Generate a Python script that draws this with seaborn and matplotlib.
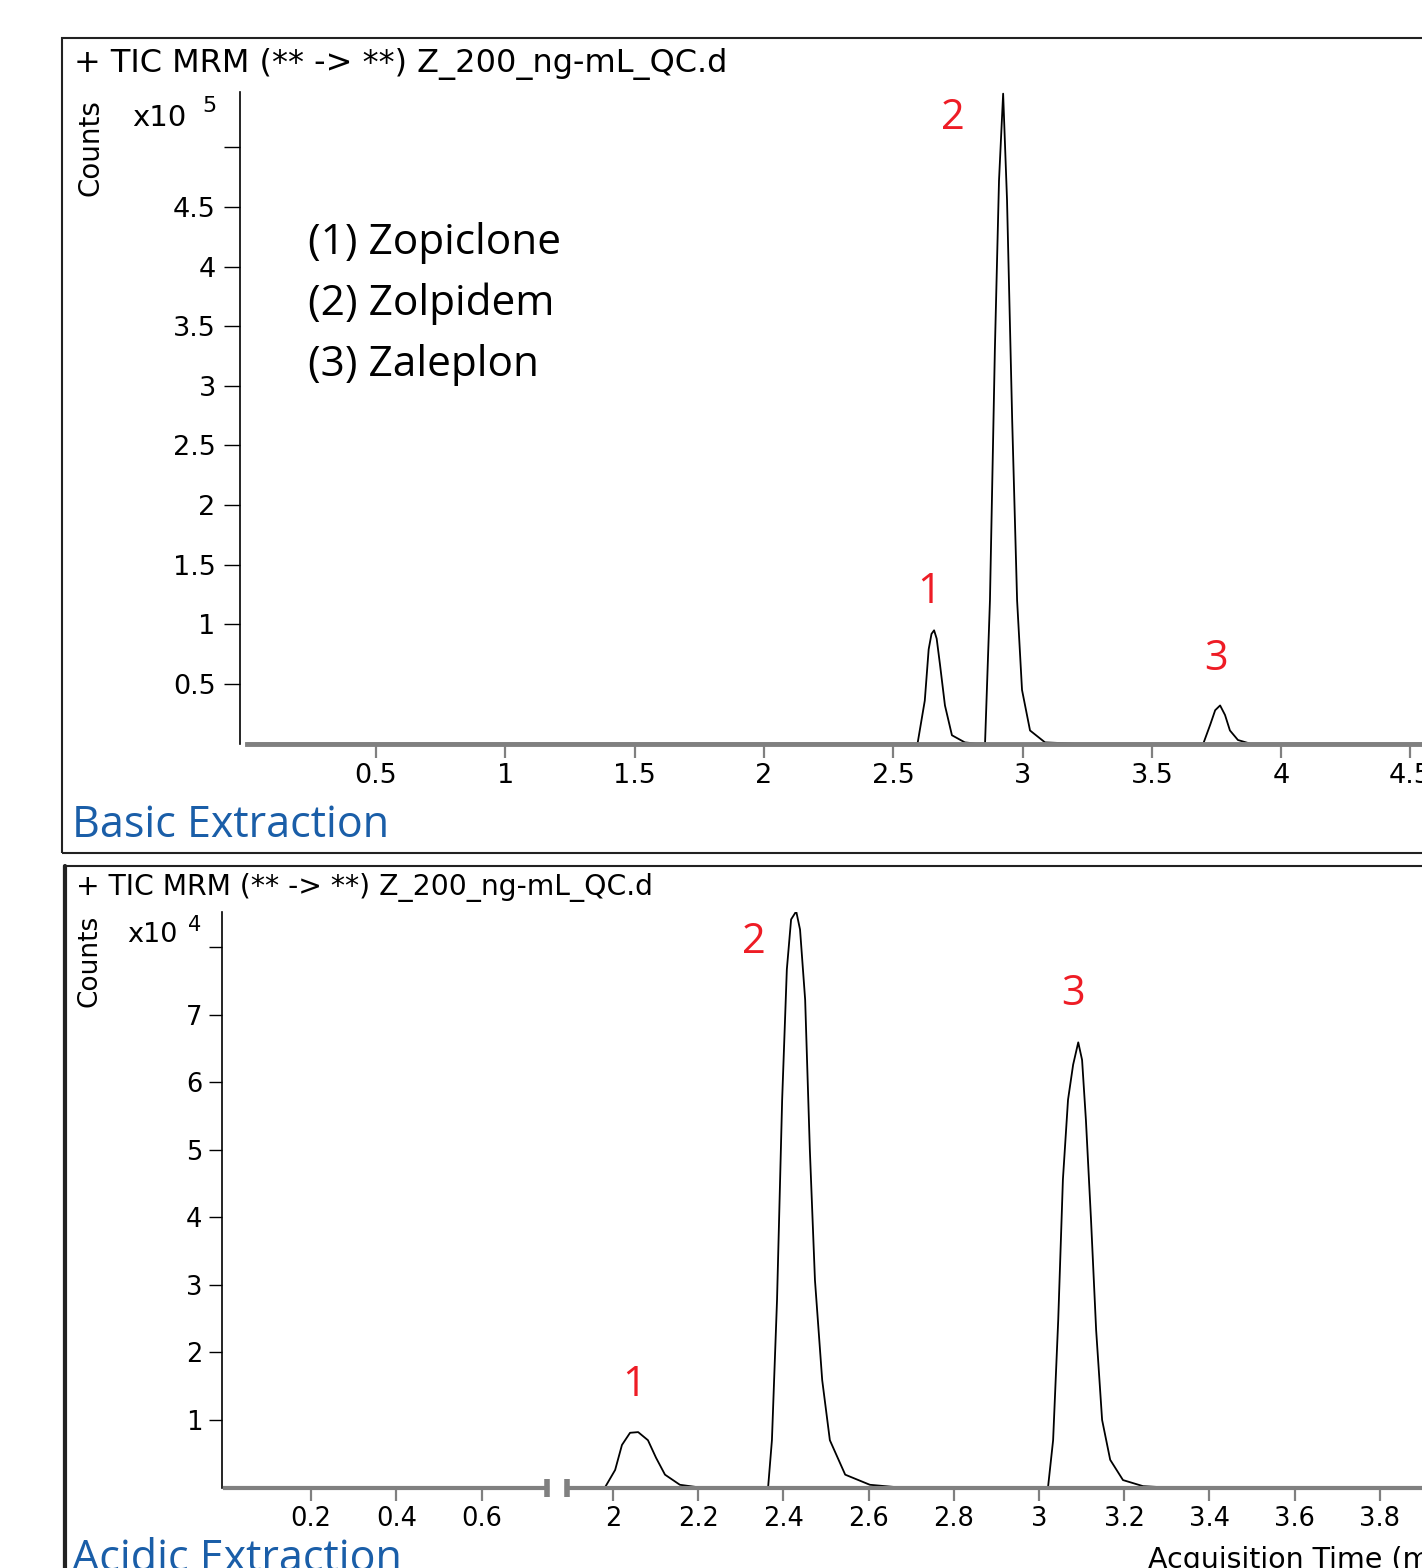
import seaborn as sns
import matplotlib.pyplot as plt
import pandas as pd
from matplotlib.patches import Rectangle
from matplotlib.lines import Line2D

# Basic extraction trace: time (min) and counts (x10^5)
basic_time = [0.0, 2.55, 2.594, 2.622, 2.637, 2.648, 2.658, 2.668, 2.681, 2.70, 2.727, 2.777, 2.82,
              2.855, 2.874, 2.893, 2.909, 2.925, 2.940, 2.960, 2.979, 2.998, 3.029, 3.087,
              3.2, 3.699, 3.726, 3.745, 3.764, 3.783, 3.802, 3.833, 3.88, 4.8]
basic_counts = [0, 0, 0, 0.36, 0.79, 0.92, 0.95, 0.88, 0.66, 0.32, 0.07, 0.01, 0,
                0, 1.2, 3.3, 4.72, 5.45, 4.56, 2.71, 1.20, 0.45, 0.11, 0.01,
                0, 0, 0.16, 0.28, 0.32, 0.24, 0.11, 0.03, 0, 0]

# Acidic extraction trace: time (min) and counts (x10^4)
acidic_time = [0.0, 0.752, 1.892, 1.981, 2.005, 2.021, 2.040, 2.059, 2.082, 2.101, 2.122,
               2.157, 2.204, 2.364, 2.373, 2.385, 2.397, 2.408, 2.418, 2.430, 2.439, 2.451,
               2.462, 2.474, 2.491, 2.509, 2.545, 2.603, 2.674, 3.021, 3.033, 3.045, 3.056,
               3.068, 3.080, 3.092, 3.101, 3.110, 3.122, 3.134, 3.148, 3.167, 3.197, 3.244,
               3.3, 4.1]
acidic_counts = [0, 0, 0, 0, 0.26, 0.63, 0.81, 0.82, 0.70, 0.44, 0.19,
                 0.04, 0, 0, 0.70, 2.78, 5.74, 7.67, 8.41, 8.53, 8.26, 7.22,
                 5.0, 3.07, 1.59, 0.70, 0.19, 0.04, 0, 0, 0.70, 2.48, 4.56,
                 5.74, 6.26, 6.59, 6.33, 5.44, 3.96, 2.33, 1.0, 0.41, 0.11, 0.02,
                 0, 0]

basic_xticks = [0.5, 1, 1.5, 2, 2.5, 3, 3.5, 4, 4.5]
basic_yticks = [0.5, 1, 1.5, 2, 2.5, 3, 3.5, 4, 4.5, 5]
basic_ylabels = ['0.5', '1', '1.5', '2', '2.5', '3', '3.5', '4', '4.5', '']
acidic_xticks_left = [0.2, 0.4, 0.6]
acidic_xticks_right = [2, 2.2, 2.4, 2.6, 2.8, 3, 3.2, 3.4, 3.6, 3.8, 4.0]
acidic_yticks = [1, 2, 3, 4, 5, 6, 7, 8]
acidic_ylabels = ['1', '2', '3', '4', '5', '6', '7', '']

compounds = ['(1) Zopiclone', '(2) Zolpidem', '(3) Zaleplon']
header = '+ TIC MRM (** -> **) Z_200_ng-mL_QC.d'

basic_df = pd.DataFrame({'time': basic_time, 'counts': basic_counts})
acidic_df = pd.DataFrame({'time': acidic_time, 'counts': acidic_counts})

sns.set_style('ticks')
plt.rcParams['font.family'] = ['DejaVu Sans']
plt.rcParams['text.color'] = 'black'
plt.rcParams['xtick.labelcolor'] = 'black'
plt.rcParams['ytick.labelcolor'] = 'black'
plt.rcParams['ytick.color'] = 'black'

W, H = 1422, 1568
fig = plt.figure(figsize=(W / 100, H / 100), dpi=100)


def box(l, t, r, b):
    return [l / W, 1 - b / H, (r - l) / W, (b - t) / H]


def fx(p):
    return p / W


def fy(p):
    return 1 - p / H


GREY = '#808080'
RED = '#ee1c25'
BLUE = '#1a5ea8'
LABEL_FONT = ['Open Sans', 'DejaVu Sans']


def style_axis(ax, xticks, size, xlen, ylen, ypad):
    for s in ['top', 'right']:
        ax.spines[s].set_visible(False)
    ax.spines['left'].set_color('black')
    ax.spines['left'].set_linewidth(1.2)
    ax.spines['bottom'].set_color(GREY)
    ax.spines['bottom'].set_linewidth(3.5)
    ax.set_xticks(xticks)
    ax.set_xticklabels(['%g' % v for v in xticks])
    ax.tick_params(axis='x', colors=GREY, labelcolor='black', length=xlen, width=1.6,
                   labelsize=size, pad=4)
    ax.tick_params(axis='y', colors='black', length=ylen, width=1, labelsize=size, pad=ypad)
    ax.set_xlabel('')
    ax.set_ylabel('')
    ax.set_facecolor('none')


# ---------------- top panel: basic extraction ----------------
ax1 = fig.add_axes(box(240, 92, 1480, 743.6))
sns.lineplot(data=basic_df, x='time', y='counts', ax=ax1, color='black',
             linewidth=1.3, estimator=None, sort=False, clip_on=False)
ax1.set_xlim(-0.026, 4.769)
ax1.set_ylim(0, 5.464)
style_axis(ax1, basic_xticks, 19.5, 10, 11.5, 6)
ax1.set_yticks(basic_yticks)
ax1.set_yticklabels(basic_ylabels)
ax1.spines['bottom'].set_bounds(0, 4.8)

for i, name in enumerate(compounds):
    fig.text(fx(308), fy(243 + 61 * i), name, fontsize=30.5, family=LABEL_FONT,
             va='center', ha='left')

for lab, (t, c) in zip(['1', '2', '3'], [(2.64, 1.27), (2.73, 5.25), (3.75, 0.71)]):
    ax1.text(t, c, lab, color=RED, fontsize=30, family=LABEL_FONT, ha='center',
             va='center')

fig.text(fx(74), fy(64), header, fontsize=23, va='center', ha='left')
fig.text(fx(90), fy(148), 'Counts', fontsize=20, rotation=90, va='center', ha='center')
fig.text(fx(132), fy(118), 'x10', fontsize=21, va='center', ha='left')
fig.text(fx(202), fy(106), '5', fontsize=16, va='center', ha='left')
fig.text(fx(72), fy(826), 'Basic Extraction', fontsize=31, color=BLUE,
         family=LABEL_FONT, va='center', ha='left')

fig.add_artist(Rectangle((fx(62), fy(853)), fx(1600 - 62), (853 - 38) / H,
                         transform=fig.transFigure, fill=False, lw=1.5,
                         edgecolor='#222222'))

# ---------------- bottom panel: acidic extraction (broken axis) ----------------
ax2 = fig.add_axes(box(222, 912, 547, 1487.5))
ax3 = fig.add_axes(box(567, 912, 1480, 1487.5))
for ax in (ax2, ax3):
    sns.lineplot(data=acidic_df, x='time', y='counts', ax=ax, color='black',
                 linewidth=1.3, estimator=None, sort=False, clip_on=True)
    ax.set_ylim(0, 8.52)

ax2.set_xlim(-0.008, 0.752)
ax3.set_xlim(1.892, 4.035)
style_axis(ax2, acidic_xticks_left, 18.5, 9.5, 9.5, 4.5)
style_axis(ax3, acidic_xticks_right, 18.5, 9.5, 9.5, 4.5)
ax2.spines['bottom'].set_linewidth(3)
ax3.spines['bottom'].set_linewidth(3)
ax2.spines['bottom'].set_bounds(0.0, 0.752)
ax2.set_yticks(acidic_yticks)
ax2.set_yticklabels(acidic_ylabels)
ax3.spines['left'].set_visible(False)
ax3.set_yticks([])

# break marks
ax2.plot([1], [0], marker='|', markersize=13, mew=4, color=GREY,
         transform=ax2.transAxes, clip_on=False)
ax3.plot([0], [0], marker='|', markersize=13, mew=4, color=GREY,
         transform=ax3.transAxes, clip_on=False)

for lab, (t, c) in zip(['1', '2', '3'], [(2.05, 1.52), (2.33, 8.07), (3.08, 7.3)]):
    ax3.text(t, c, lab, color=RED, fontsize=30, family=LABEL_FONT, ha='center',
             va='center')

fig.text(fx(76), fy(887), header, fontsize=20.3, va='center', ha='left')
fig.text(fx(90), fy(961), 'Counts', fontsize=19, rotation=90, va='center', ha='center')
fig.text(fx(127), fy(935), 'x10', fontsize=19.5, va='center', ha='left')
fig.text(fx(188), fy(925), '4', fontsize=15, va='center', ha='left')
fig.text(fx(72), fy(1560), 'Acidic Extraction', fontsize=31, color=BLUE,
         family=LABEL_FONT, va='center', ha='left')
fig.text(fx(1148), fy(1560), 'Acquisition Time (min)', fontsize=20.5, va='center',
         ha='left')

fig.add_artist(Rectangle((fx(64), fy(1700)), fx(1600 - 64), (1700 - 866) / H,
                         transform=fig.transFigure, fill=False, lw=1.5,
                         edgecolor='#222222'))
fig.add_artist(Line2D([fx(65), fx(65)], [fy(866), fy(1600)], lw=3, color='#222222',
                      transform=fig.transFigure))

plt.savefig('out.png', dpi=100)
